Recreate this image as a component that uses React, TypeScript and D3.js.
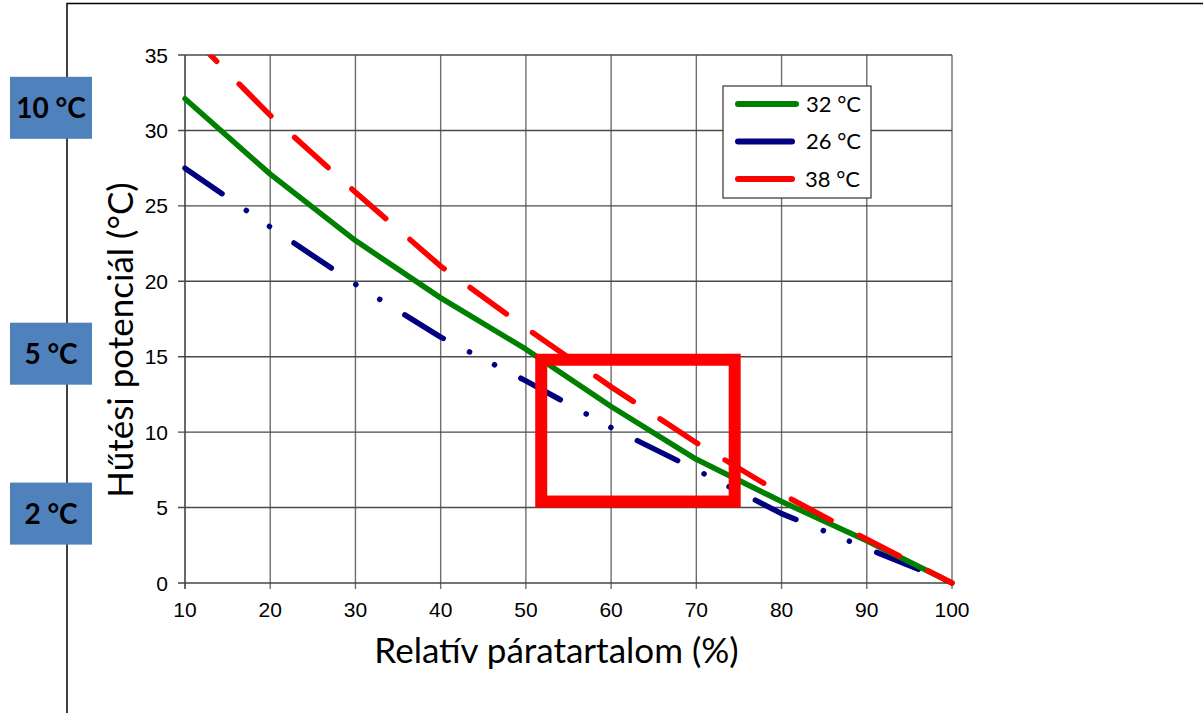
import { useRef, useEffect } from 'react';
import * as d3 from 'd3';

// relative humidity (%)
const humidity = [10, 20, 30, 40, 50, 60, 70, 80, 90, 100];
// cooling potential (°C) per air temperature
const series32 = [32.1, 27.1, 22.7, 18.9, 15.5, 11.7, 8.2, 5.4, 2.8, 0];
const series26 = [27.5, 23.6, 19.8, 16.3, 13.4, 10.3, 7.5, 4.6, 2.3, 0];
const series38 = [36.7, 31.0, 25.9, 21.0, 16.9, 13.0, 9.3, 5.9, 2.9, 0];
const seriesNames = ['32 °C', '26 °C', '38 °C'];
const xTicks = [10, 20, 30, 40, 50, 60, 70, 80, 90, 100];
const yTicks = [0, 5, 10, 15, 20, 25, 30, 35];
// highlight box (humidity range, potential range)
const boxX = [51.8, 74.5];
const boxY = [5.4, 14.8];
// side labels and the potential they sit next to
const sideLabels = ['10 °C', '5 °C', '2 °C'];
const sideLevels = [31.5, 15.2, 4.6];

const TICK_FONT = 'Liberation Sans, Arial, sans-serif';
const TEXT_FONT = 'Lato, Open Sans, sans-serif';

export default function App() {
  const svgRef = useRef<SVGSVGElement>(null);

  useEffect(() => {
    const W = 1203, H = 713;
    const margin = { top: 55, right: 251, bottom: 130, left: 185 };
    const width = W - margin.left - margin.right;
    const height = H - margin.top - margin.bottom;

    const root = d3.select(svgRef.current).html('')
      .attr('width', W).attr('height', H);

    // outer frame (left + top)
    root.append('path')
      .attr('d', `M67,713 L67,3.5 L1203,3.5`)
      .attr('fill', 'none').attr('stroke', '#000').attr('stroke-width', 1.5);

    const svg = root.append('g').attr('transform', `translate(${margin.left},${margin.top})`);

    const x = d3.scaleLinear().domain([10, 100]).range([0, width]);
    const y = d3.scaleLinear().domain([0, 35]).range([height, 0]);

    // grid
    svg.append('g').selectAll('line').data(xTicks.slice(1)).enter().append('line')
      .attr('x1', d => x(d)).attr('x2', d => x(d)).attr('y1', 0).attr('y2', height + 6)
      .attr('stroke', '#6e6e6e').attr('stroke-width', 1.4);
    svg.append('g').selectAll('line').data(yTicks.slice(1)).enter().append('line')
      .attr('x1', -7).attr('x2', width).attr('y1', d => y(d)).attr('y2', d => y(d))
      .attr('stroke', '#4a4a4a').attr('stroke-width', 1.4);

    // axes lines
    svg.append('line').attr('x1', 0).attr('x2', 0).attr('y1', 0).attr('y2', height + 6)
      .attr('stroke', '#444').attr('stroke-width', 1.6);
    svg.append('line').attr('x1', -7).attr('x2', width).attr('y1', height).attr('y2', height)
      .attr('stroke', '#444').attr('stroke-width', 1.6);

    // tick labels
    svg.append('g').selectAll('text').data(yTicks).enter().append('text')
      .attr('x', -17).attr('y', d => y(d)).attr('dy', '0.36em')
      .attr('text-anchor', 'end')
      .style('font-family', TICK_FONT).style('font-size', '21px')
      .text(d => d);
    svg.append('g').selectAll('text').data(xTicks).enter().append('text')
      .attr('x', d => x(d)).attr('y', height + 34)
      .attr('text-anchor', 'middle')
      .style('font-family', TICK_FONT).style('font-size', '21px')
      .text(d => d);

    // axis titles
    svg.append('text')
      .attr('x', x(55) - 12).attr('y', height + 80)
      .attr('text-anchor', 'middle')
      .style('font-family', TEXT_FONT).style('font-size', '35px')
      .text('Relatív páratartalom (%)');
    svg.append('text')
      .attr('transform', `translate(${-52},${285}) rotate(-90)`)
      .attr('text-anchor', 'middle')
      .style('font-family', TEXT_FONT).style('font-size', '35px')
      .text('Hűtési potenciál (°C)');

    // clip the curves at the plot area
    root.append('defs').append('clipPath').attr('id', 'plot-clip')
      .append('rect').attr('x', -4).attr('y', 0).attr('width', width + 8).attr('height', height + 4);

    const line = d3.line<number>()
      .x((_, i) => x(humidity[i]))
      .y(d => y(d));

    const lines = svg.append('g').attr('clip-path', 'url(#plot-clip)');
    const styles = [
      { data: series26, color: '#000080', dash: '45,29.5,0.1,28,0.1,29.5' },
      { data: series32, color: '#008000', dash: null },
      { data: series38, color: '#ff0000', dash: '45,32' },
    ];
    styles.forEach(s => {
      lines.append('path')
        .datum(s.data)
        .attr('fill', 'none')
        .attr('stroke', s.color)
        .attr('stroke-width', 5.5)
        .attr('stroke-linecap', 'round')
        .attr('stroke-linejoin', 'round')
        .attr('stroke-dasharray', s.dash)
        .attr('d', line);
    });

    // highlight box
    svg.append('rect')
      .attr('x', x(boxX[0])).attr('y', y(boxY[1]))
      .attr('width', x(boxX[1]) - x(boxX[0])).attr('height', y(boxY[0]) - y(boxY[1]))
      .attr('fill', 'none').attr('stroke', '#ff0000').attr('stroke-width', 12);

    // legend
    const legend = root.append('g').attr('transform', 'translate(723,86)');
    legend.append('rect').attr('width', 148).attr('height', 112)
      .attr('fill', '#fff').attr('stroke', '#333').attr('stroke-width', 1.2);
    const legendColors = ['#008000', '#000080', '#ff0000'];
    seriesNames.forEach((name, i) => {
      const ly = 18 + i * 37.5;
      legend.append('line').attr('x1', 15).attr('x2', 73 - (i ? 4 : 0)).attr('y1', ly).attr('y2', ly)
        .attr('stroke', legendColors[i]).attr('stroke-width', 6).attr('stroke-linecap', 'round');
      legend.append('text').attr('x', 83 - (i === 2 ? 1 : 0)).attr('y', ly).attr('dy', '0.36em')
        .style('font-family', TEXT_FONT).style('font-size', '22px')
        .text(name);
    });

    // side labels
    const side = root.append('g');
    sideLabels.forEach((label, i) => {
      const cy = margin.top + y(sideLevels[i]);
      side.append('rect').attr('x', 10).attr('y', cy - 31).attr('width', 82).attr('height', 62)
        .attr('fill', '#4f81bd');
      side.append('text').attr('x', 51).attr('y', cy).attr('dy', '0.36em')
        .attr('text-anchor', 'middle')
        .style('font-family', TEXT_FONT).style('font-size', '28px')
        .style('font-weight', 'bold')
        .text(label);
    });
  }, []);

  return <svg ref={svgRef} style={{ display: 'block', position: 'absolute', left: 0, top: 0 }} />;
}
